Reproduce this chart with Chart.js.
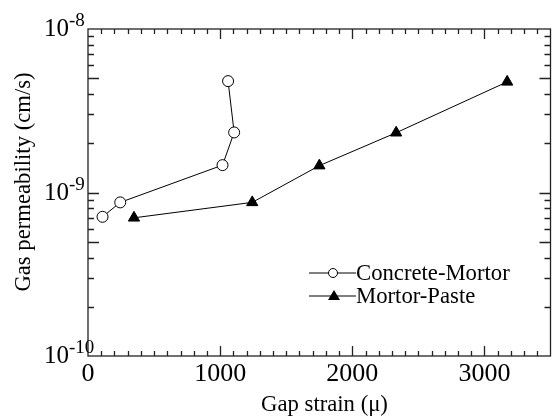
<!DOCTYPE html>
<html>
<head>
<meta charset="utf-8">
<script src="https://cdn.jsdelivr.net/npm/chart.js@4.4.0/dist/chart.umd.min.js"></script>
<style>
  html, body { margin: 0; padding: 0; background: #fff; }
  #wrap { width: 558px; height: 419px; }
</style>
</head>
<body>
<div id="wrap"><canvas id="gasChart" width="558" height="419"></canvas></div>
<script>
// values
const concreteMortorX = [110, 244, 1018, 1106, 1060];
const concreteMortorY = [7.1e-10, 8.7e-10, 1.47e-9, 2.33e-9, 4.8e-9];
const mortorPasteX = [348, 1243, 1751, 2332, 3172];
const mortorPasteY = [7.0e-10, 8.7e-10, 1.46e-9, 2.32e-9, 4.75e-9];

const xTickLabels = [0, 1000, 2000, 3000];
const yDecades = [-10, -9, -8];
const seriesNames = ['Concrete-Mortor', 'Mortor-Paste'];

const SERIF = '"Liberation Serif", "Times New Roman", serif';

const toPoints = (xs, ys) => xs.map((x, i) => ({x: x, y: ys[i]}));

const framePlugin = {
    id: 'frame',
    afterDraw(chart) {
        const ctx = chart.ctx;
        const xs = chart.scales.x;
        const ys = chart.scales.y;
        const a = chart.chartArea;
        ctx.save();
        ctx.strokeStyle = '#222';
        ctx.lineWidth = 1.3;
        ctx.strokeRect(a.left, a.top, a.right - a.left, a.bottom - a.top);

        ctx.beginPath();
        // x ticks every 100, longer every 1000
        for (let v = 100; v < 3500; v += 100) {
            const px = Math.round(xs.getPixelForValue(v)) + 0.5;
            const len = v % 1000 === 0 ? 10 : 5;
            ctx.moveTo(px, a.bottom); ctx.lineTo(px, a.bottom - len);
            ctx.moveTo(px, a.top); ctx.lineTo(px, a.top + len);
        }
        // log y ticks
        for (let d = -10; d < -8; d++) {
            for (let m = 1; m <= 9; m++) {
                if (d === -10 && m === 1) continue;
                const val = m * Math.pow(10, d);
                const py = Math.round(ys.getPixelForValue(val)) + 0.5;
                const len = (m === 1 || m === 5) ? 11 : 6;
                ctx.moveTo(a.left, py); ctx.lineTo(a.left + len, py);
                ctx.moveTo(a.right, py); ctx.lineTo(a.right - len, py);
            }
        }
        ctx.stroke();

        ctx.fillStyle = '#000';
        // x tick labels
        ctx.font = '26px ' + SERIF;
        ctx.textAlign = 'center';
        ctx.textBaseline = 'alphabetic';
        xTickLabels.forEach(v => {
            ctx.fillText(String(v), xs.getPixelForValue(v), a.bottom + 25);
        });

        // y tick labels 10^n
        yDecades.forEach(d => {
            const py = ys.getPixelForValue(Math.pow(10, d));
            ctx.textAlign = 'left';
            ctx.font = '25px ' + SERIF;
            ctx.fillText('10', 44, py + 7);
            const w = ctx.measureText('10').width;
            ctx.font = '19px ' + SERIF;
            ctx.fillText(String(d), 44 + w, py - 3);
        });

        // axis titles
        ctx.font = '22.7px ' + SERIF;
        ctx.textAlign = 'center';
        ctx.fillText('Gap strain (\u03bc)', 324.5, 411);
        ctx.save();
        ctx.translate(30, 182);
        ctx.rotate(-Math.PI / 2);
        ctx.fillText('Gas permeability (cm/s)', 0, 0);
        ctx.restore();

        // legend
        const legendRows = [
            {label: seriesNames[0], y: 273, style: 'circle'},
            {label: seriesNames[1], y: 296, style: 'triangle'}
        ];
        legendRows.forEach(r => {
            ctx.strokeStyle = '#000';
            ctx.lineWidth = 1;
            ctx.beginPath();
            ctx.moveTo(309, r.y); ctx.lineTo(356, r.y);
            ctx.stroke();
            if (r.style === 'circle') {
                ctx.fillStyle = '#fff';
                ctx.beginPath();
                ctx.arc(333, r.y, 4.5, 0, Math.PI * 2);
                ctx.fill(); ctx.stroke();
            } else {
                ctx.fillStyle = '#000';
                ctx.beginPath();
                ctx.moveTo(334, r.y - 6);
                ctx.lineTo(340, r.y + 4);
                ctx.lineTo(328, r.y + 4);
                ctx.closePath();
                ctx.fill();
            }
            ctx.fillStyle = '#000';
            ctx.font = '22.7px ' + SERIF;
            ctx.textAlign = 'left';
            ctx.fillText(r.label, 356, r.y + 7);
        });
        ctx.restore();
    }
};

new Chart(document.getElementById('gasChart').getContext('2d'), {
    type: 'scatter',
    data: {
        datasets: [
            {
                label: seriesNames[0],
                data: toPoints(concreteMortorX, concreteMortorY),
                showLine: true,
                borderColor: '#000',
                borderWidth: 1,
                pointStyle: 'circle',
                pointRadius: 5.5,
                pointBackgroundColor: '#fff',
                pointBorderColor: '#000',
                pointBorderWidth: 1
            },
            {
                label: seriesNames[1],
                data: toPoints(mortorPasteX, mortorPasteY),
                showLine: true,
                borderColor: '#000',
                borderWidth: 1,
                pointStyle: 'triangle',
                pointRadius: 6.5,
                pointBackgroundColor: '#000',
                pointBorderColor: '#000',
                pointBorderWidth: 1
            }
        ]
    },
    options: {
        responsive: false,
        animation: false,
        layout: {padding: {left: 88, top: 29, right: 7, bottom: 63}},
        plugins: {legend: {display: false}, tooltip: {enabled: false}},
        scales: {
            x: {type: 'linear', min: 0, max: 3500, display: false},
            y: {type: 'logarithmic', min: 1e-10, max: 1e-8, display: false}
        }
    },
    plugins: [framePlugin]
});
</script>
</body>
</html>
